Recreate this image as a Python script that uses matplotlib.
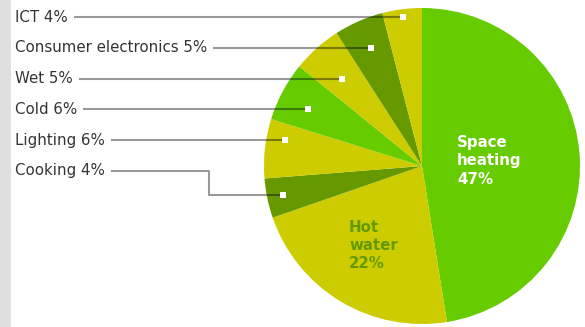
import numpy as np
import matplotlib.pyplot as plt

# share of household electricity, clockwise from 12 o'clock
categories = ["Space heating", "Hot water", "Cooking", "Lighting", "Cold",
              "Wet", "Consumer electronics", "ICT"]
shares = [47, 22, 4, 6, 6, 5, 5, 4]
colors = ["#66cc00", "#cccc00", "#669900", "#cccc00", "#66cc00",
          "#cccc00", "#669900", "#cccc00"]

# small slices get an outside label, listed top to bottom
outside = ["ICT", "Consumer electronics", "Wet", "Cold", "Lighting", "Cooking"]

H = 327
fig = plt.figure(figsize=(5.85, 3.27), dpi=100)
ax = fig.add_axes([0, 0, 1, 1])

cx, cy, R = 422, H - 166, 158
wedges, _ = ax.pie(shares, colors=colors, startangle=90, counterclock=False,
                   center=(cx, cy), radius=R, wedgeprops=dict(linewidth=0))
ax.set_xlim(0, 585)
ax.set_ylim(0, H)
ax.set_aspect("equal")
ax.axis("off")

# grey strip on the left edge
ax.add_patch(plt.Rectangle((0, 0), 11, H, color="#dfdfdf", lw=0, zorder=0))

# labels inside the big slices
ax.text(457, H - 161, "Space\nheating\n47%", color="white", fontsize=10.8,
        fontweight="bold", va="center", ha="left", linespacing=1.25)
ax.text(349, H - 245, "Hot\nwater\n22%", color="#669900", fontsize=10.8,
        fontweight="bold", va="center", ha="left", linespacing=1.25)

# where the marker sits along each slice's middle ray
r_frac = {"ICT": 0.94, "Consumer electronics": 0.80, "Wet": 0.76,
          "Cold": 0.82, "Lighting": 0.87, "Cooking": 0.90}

fig.canvas.draw()
renderer = fig.canvas.get_renderer()
inv = ax.transData.inverted()

label_y0, label_step = 17, 30.8
for i, name in enumerate(outside):
    k = categories.index(name)
    w = wedges[k]
    mid = np.deg2rad((w.theta1 + w.theta2) / 2)
    mx = cx + R * r_frac[name] * np.cos(mid)
    my = cy + R * r_frac[name] * np.sin(mid)

    ly = H - (label_y0 + i * label_step)
    t = ax.text(15, ly, f"{name} {shares[k]}%", fontsize=10.8, color="#333333",
                va="center", ha="left")
    bb = t.get_window_extent(renderer)
    x_end = inv.transform((bb.x1, bb.y0))[0] + 6

    if abs(my - ly) > 12:
        ex = x_end + 98
        xs, ys = [x_end, ex, ex, mx], [ly, ly, my, my]
    else:
        my = ly
        xs, ys = [x_end, mx], [ly, ly]
    ax.plot(xs, ys, color="black", alpha=0.4, lw=1.5,
            solid_capstyle="butt", zorder=3)
    ax.plot(mx, my, marker="s", ms=4, color="white", mew=0, zorder=4)

fig.savefig("out.png", dpi=100)
